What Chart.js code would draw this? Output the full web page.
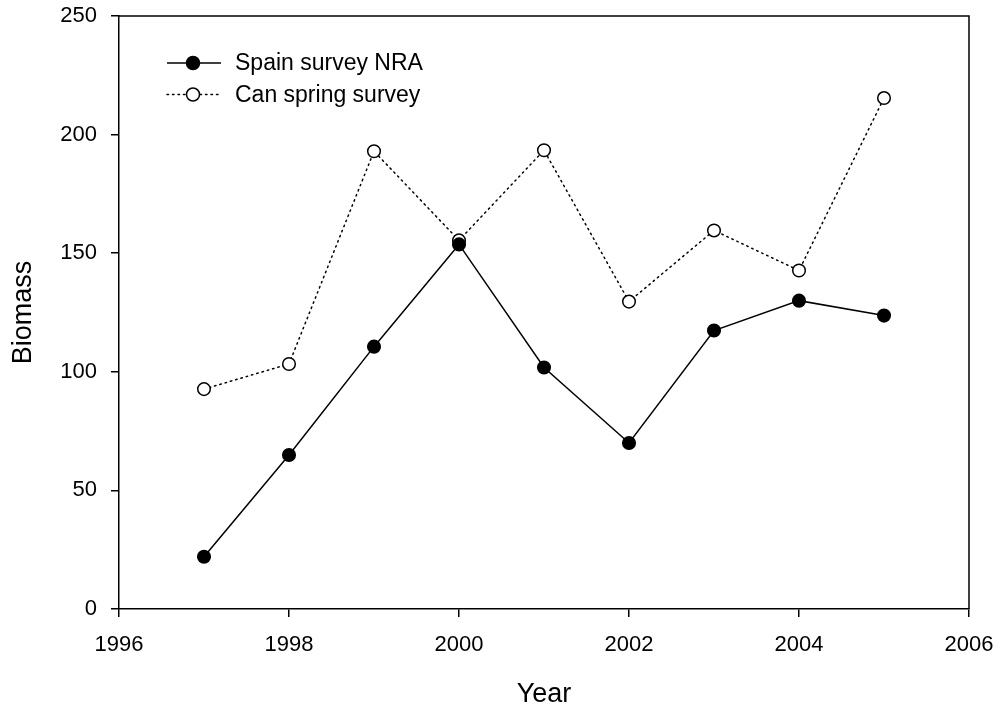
<!DOCTYPE html>
<html>
<head>
<meta charset="utf-8">
<script src="https://cdn.jsdelivr.net/npm/chart.js@4.4.1/dist/chart.umd.min.js"></script>
<style>
  html, body { margin: 0; padding: 0; background: #fff; }
  #wrap { width: 1001px; height: 711px; position: relative; }
</style>
</head>
<body>
<div id="wrap"><canvas id="c" width="1001" height="711"></canvas></div>
<script>
// Survey biomass indices by year
const years = [1997, 1998, 1999, 2000, 2001, 2002, 2003, 2004, 2005];
const spainNRA = [22.0, 64.9, 110.6, 153.7, 101.8, 70.0, 117.4, 130.0, 123.7];
const canSpring = [92.7, 103.3, 193.0, 155.4, 193.4, 129.6, 159.6, 142.7, 215.4];
const seriesNames = ['Spain survey NRA', 'Can spring survey'];
const xTicks = [1996, 1998, 2000, 2002, 2004, 2006];
const yTicks = [0, 50, 100, 150, 200, 250];

const FONT = 'Arial, "Liberation Sans", Helvetica, sans-serif';

const toPoints = vals => years.map((y, i) => ({ x: y, y: vals[i] }));

// Closes the frame (top and right edges) and draws the inset legend
const framePlugin = {
  id: 'frame',
  afterDraw(chart) {
    const { ctx, chartArea: a } = chart;
    ctx.save();
    ctx.strokeStyle = '#000';
    ctx.lineWidth = 1.5;
    ctx.beginPath();
    ctx.moveTo(a.left, a.top);
    ctx.lineTo(a.right, a.top);
    ctx.lineTo(a.right, a.bottom);
    ctx.stroke();

    // legend
    const lx0 = a.left + 48, lx1 = a.left + 102, mx = a.left + 74;
    const rows = [
      { y: a.top + 47, name: seriesNames[0], dash: [], fill: '#000' },
      { y: a.top + 78.5, name: seriesNames[1], dash: [1.5, 4], fill: '#fff' }
    ];
    rows.forEach(r => {
      ctx.setLineDash(r.dash);
      ctx.lineCap = r.dash.length ? 'round' : 'butt';
      ctx.lineWidth = 1.5;
      ctx.beginPath();
      ctx.moveTo(lx0, r.y);
      ctx.lineTo(lx1, r.y);
      ctx.stroke();
      ctx.setLineDash([]);
      ctx.beginPath();
      ctx.arc(mx, r.y, 6.5, 0, Math.PI * 2);
      ctx.fillStyle = r.fill;
      ctx.fill();
      ctx.stroke();
      ctx.fillStyle = '#000';
      ctx.font = '23px ' + FONT;
      ctx.textBaseline = 'middle';
      ctx.textAlign = 'left';
      ctx.fillText(r.name, a.left + 116, r.y + 1);
    });
    ctx.restore();
  }
};

new Chart(document.getElementById('c'), {
  type: 'line',
  data: {
    datasets: [
      {
        label: seriesNames[0],
        data: toPoints(spainNRA),
        borderColor: '#000',
        borderWidth: 1.5,
        backgroundColor: '#000',
        pointBackgroundColor: '#000',
        pointBorderColor: '#000',
        pointRadius: 6.3,
        pointBorderWidth: 1.5,
        tension: 0
      },
      {
        label: seriesNames[1],
        data: toPoints(canSpring),
        borderColor: '#000',
        borderWidth: 1.5,
        borderDash: [1.5, 4],
        borderCapStyle: 'round',
        backgroundColor: '#fff',
        pointBackgroundColor: '#fff',
        pointBorderColor: '#000',
        pointRadius: 6.3,
        pointBorderWidth: 1.5,
        tension: 0
      }
    ]
  },
  options: {
    responsive: false,
    animation: false,
    devicePixelRatio: 1,
    layout: { padding: { left: 0, right: 32, top: 16, bottom: 0 } },
    plugins: {
      legend: { display: false },
      tooltip: { enabled: false }
    },
    scales: {
      x: {
        type: 'linear',
        min: 1996,
        max: 2006,
        afterBuildTicks: s => { s.ticks = xTicks.map(v => ({ value: v })); },
        afterFit: s => { s.height = 102; s.paddingLeft = 0; s.paddingRight = 0; },
        ticks: {
          color: '#000',
          font: { family: FONT, size: 22 },
          padding: 15,
          maxRotation: 0,
          callback: v => String(v)
        },
        grid: { drawOnChartArea: false, drawTicks: true, tickLength: 8, color: '#000', lineWidth: 1.5 },
        border: { display: true, color: '#000', width: 1.5 },
        title: {
          display: true,
          text: 'Year',
          color: '#000',
          font: { family: FONT, size: 27 },
          padding: { top: 0, bottom: 0 }
        }
      },
      y: {
        min: 0,
        max: 250,
        afterBuildTicks: s => { s.ticks = yTicks.map(v => ({ value: v })); },
        afterFit: s => { s.width = 119; s.paddingTop = 0; s.paddingBottom = 0; },
        ticks: {
          color: '#000',
          font: { family: FONT, size: 22 },
          padding: 14
        },
        grid: { drawOnChartArea: false, drawTicks: true, tickLength: 8, color: '#000', lineWidth: 1.5 },
        border: { display: true, color: '#000', width: 1.5 },
        title: {
          display: true,
          text: 'Biomass',
          color: '#000',
          font: { family: FONT, size: 27 },
          padding: { top: 7, bottom: 7 }
        }
      }
    }
  },
  plugins: [framePlugin]
});
</script>
</body>
</html>
